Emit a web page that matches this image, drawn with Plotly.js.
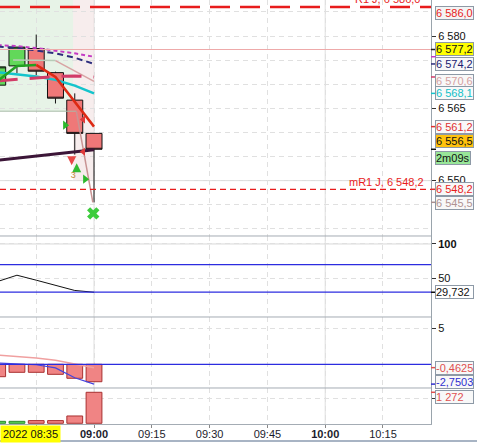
<!DOCTYPE html>
<html><head><meta charset="utf-8">
<script src="https://cdn.plot.ly/plotly-3.0.1.min.js"></script>
<style>html,body{margin:0;padding:0;background:#fff;overflow:hidden}#chart{width:477px;height:443px}</style>
</head><body><div id="chart"></div>
<script>
const FONT = '"Liberation Sans", Arial, sans-serif';
// time = minutes since midnight (08:35 .. 09:00, 5-minute candles)
const candleTimes = [515, 520, 525, 530, 535, 540];
const opens  = [6569.8, 6573.8, 6577.4, 6572.4, 6566.7, 6559.8];
const highs  = [6573.9, 6577.7, 6580.3, 6572.6, 6568.1, 6559.8];
const lows   = [6569.5, 6572.3, 6571.9, 6566.0, 6555.4, 6545.5];
const closes = [6573.6, 6577.7, 6572.7, 6567.1, 6559.8, 6556.5];

const maMagenta = [6578.1, 6577.9, 6577.5, 6577.0, 6576.4, 6575.7];
const maNavy    = [6577.8, 6577.5, 6577.0, 6576.4, 6575.5, 6574.2];
const maCyan    = [6572.5, 6572.0, 6571.6, 6570.9, 6569.7, 6568.1];
const vwapLine  = [6570.7, 6571.0, 6571.4, 6571.6, 6571.7, 6571.5];

const slowTimesFlat = [519, 525, 530];
const slowFlat      = [6575.0, 6575.0, 6574.9];
const slowTimesDown = [530, 535, 540];
const slowDown      = [6574.9, 6572.8, 6570.6];

const zigUpTimes = [515, 520, 525];
const zigUp      = [6570.7, 6573.8, 6574.0];
const zigDnTimes = [525, 530, 540];
const zigDn      = [6574.0, 6571.5, 6561.2];

const trendTimes = [515, 540];
const trendVals  = [6554.2, 6556.4];

const floorTimes = [515, 535.4];
const floorVals  = [6564.4, 6564.4];
const dropTimes  = [535.4, 539.7];
const dropVals   = [6564.4, 6545.5];

// levels
const levelR1 = 6586.0, levelMR1 = 6548.2, levelOpen = 6577.2, levelRound = 6550, levelTop = 6587.7;

// zones
const zoneX0 = [500, 534.6], zoneX1 = [534.6, 540];
const zoneY0 = [6564.4, 6550], zoneY1 = [6600, 6600];
const zoneColors = ['rgba(215,235,215,0.6)', 'rgba(240,222,222,0.55)'];

// signals
const sigGreenRightT = [532.5, 537.7], sigGreenRightP = [6561.5, 6550.3];
const sigRedLeftT = [537.2, 537.2], sigRedLeftP = [6562.7, 6556.0];
const sigRedDownT = [534.2], sigRedDownP = [6553.2];
const sigGreenUpT = [535.5], sigGreenUpP = [6553.6];
const sigCountT = [534.6], sigCountP = [6551.0], sigCountText = ['3'];
const sigCrossT = [539.8], sigCrossP = [6543.2];

// oscillator panel
const rsiVals = [45.4, 54.5, 47.3, 39.9, 32.3, 29.732];
const rsiLevels = [70, 30];
// macd panel
const macdHist = [-1.72, -1.11, -1.11, -1.39, -1.94, -2.42];
const macdLine = [1.3, 1.1, 0.87, 0.56, 0.1, -0.4625];
const macdSignal = [0.17, 0.05, -0.06, -0.5, -1.86, -2.7503];
// volume
const volumes = [80, 80, 110, 110, 300, 1272];

const xTickVals = [525, 540, 555, 570, 585, 600, 615];
const xTickText = ['', '<b>09:00</b>', '09:15', '09:30', '09:45', '<b>10:00</b>', '10:15'];
const hourLines = [540, 600];
const priceTickVals = [6550, 6565, 6580];
const rsiTickVals = [50, 100];
const macdTickVals = [5];
const volTickVals = [1000];

const last = a => a[a.length - 1];
function fmt(v, dec) {
  const neg = v < 0; const s = Math.abs(v).toFixed(dec).split('.');
  const ip = s[0].replace(/\B(?=(\d{3})+(?!\d))/g, ' ');
  return (neg ? '-' : '') + ip + (s[1] ? ',' + s[1] : '');
}

const dom = [[0.4434, 1], [0.25236, 0.4434], [0.08491, 0.25236], [0, 0.08491]];

const traces = [];
traces.push({type:'candlestick', x:candleTimes, open:opens, high:highs, low:lows, close:closes,
  xaxis:'x', yaxis:'y', whiskerwidth:0, hoverinfo:'skip',
  increasing:{line:{color:'#111', width:1}, fillcolor:'#62d85a'},
  decreasing:{line:{color:'#111', width:1}, fillcolor:'#ef7878'}});
function line(x, y, color, width, dash, yaxis) {
  traces.push({type:'scatter', mode:'lines', x, y, xaxis:'x', yaxis:yaxis||'y', hoverinfo:'skip',
    line:{color, width, dash:dash||'solid'}});
}
line(candleTimes, maCyan, '#14c4cc', 2.5);
line(slowTimesFlat, slowFlat, '#b8ccb8', 1.5);
line(slowTimesDown, slowDown, '#d8a4a4', 1.5);
line(candleTimes, vwapLine, '#d23c68', 3, '20px,12px');
line(candleTimes, maMagenta, '#c43cc4', 2, '4px,3px');
line(candleTimes, maNavy, '#2c2c7c', 2, '6px,4px');
line(floorTimes, floorVals, '#a8bca8', 1);
line(dropTimes, dropVals, '#c89494', 1.5);
line(zigUpTimes, zigUp, '#22a022', 2.5);
line(zigDnTimes, zigDn, '#dd2a14', 2.5);
line(trendTimes, trendVals, '#3c1638', 3);
function marks(x, y, symbol, color, size) {
  traces.push({type:'scatter', mode:'markers', x, y, xaxis:'x', yaxis:'y', hoverinfo:'skip',
    marker:{symbol, color, size, line:{width:0}}});
}
marks(sigGreenRightT, sigGreenRightP, 'triangle-right', '#2cb82c', 8);
marks(sigRedLeftT, sigRedLeftP, 'triangle-left', '#e03a3a', 7);
marks(sigRedDownT, sigRedDownP, 'arrow-down', '#e84848', 9);
marks(sigGreenUpT, sigGreenUpP, 'arrow-up', '#33bb33', 9);
marks(sigCrossT, sigCrossP, 'x', '#3ccc3c', 11);
traces.push({type:'scatter', mode:'text', x:sigCountT, y:sigCountP, text:sigCountText, xaxis:'x', yaxis:'y',
  hoverinfo:'skip', textfont:{family:FONT, size:9, color:'#c08838'}});

// RSI
line(candleTimes, rsiVals, '#111', 1, 'solid', 'y2');
// MACD
const upDn = closes.map((c, i) => c >= opens[i]);
traces.push({type:'bar', x:candleTimes, y:macdHist, xaxis:'x', yaxis:'y3', width:4.1, hoverinfo:'skip',
  marker:{color:'#f08484', line:{color:'#a83030', width:1}}});
line(candleTimes, macdLine, '#f0a0a0', 1.5, 'solid', 'y3');
line(candleTimes, macdSignal, '#4444e0', 1.2, 'solid', 'y3');
// Volume
traces.push({type:'bar', x:candleTimes, y:volumes, xaxis:'x', yaxis:'y4', width:4.1, hoverinfo:'skip',
  marker:{color:upDn.map(u => u ? '#5cd85c' : '#f08484'), line:{color:upDn.map(u => u ? '#2a8a2a' : '#a83030'), width:1}}});

const shapes = [];
for (let i = 0; i < zoneX0.length; i++) {
  shapes.push({type:'rect', xref:'x', yref:'y', x0:zoneX0[i], x1:zoneX1[i], y0:zoneY0[i], y1:zoneY1[i],
    fillcolor:zoneColors[i], line:{width:0}, layer:'below'});
}
hourLines.forEach(h => shapes.push({type:'line', xref:'x', yref:'paper', x0:h, x1:h, y0:0, y1:1,
  line:{color:'#dedede', width:1}, layer:'below'}));
function hl(yref, v, color, width, dash, layer) {
  shapes.push({type:'line', xref:'paper', x0:0, x1:1, yref, y0:v, y1:v, line:{color, width, dash:dash||'solid'}, layer:layer||'above'});
}
hl('y', levelRound, '#d8d8d8', 1, 'solid', 'below');
hl('y', levelOpen, '#eeaaaa', 1);
hl('y', levelR1, '#e81c1c', 2.5, '20px,10px');
hl('y', levelMR1, '#e81c1c', 1.2, '6px,4px');
hl('y2', 100, '#d8d8d8', 1, 'solid', 'below');
rsiLevels.forEach(v => hl('y2', v, '#2c2ce0', 1.2));
hl('y3', 0, '#2c2ce0', 1.2);
// panel separators
[dom[0][0], dom[1][0], dom[2][0]].forEach(v => shapes.push({type:'line', xref:'paper', yref:'paper',
  x0:0, x1:1, y0:v, y1:v, line:{color:'#a4acb4', width:1}}));
// window bottom border
shapes.push({type:'line', xref:'paper', yref:'paper', x0:0, x1:477/431, y0:-0.04, y1:-0.04, line:{color:'#a8b4c4', width:2}});

// value tags
const tagTicks = [
  ['y', levelOpen, '#222'], ['y', last(maMagenta), '#c43cc4'], ['y', last(maNavy), '#2c2c7c'],
  ['y', last(vwapLine), '#d23c68'], ['y', last(maCyan), '#14c4cc'], ['y', last(zigDn), '#e03030'],
  ['y', last(closes), '#111'], ['y', levelMR1, '#e03030'], ['y', last(lows), '#a89090'],
  ['y2', last(rsiVals), '#111'], ['y3', last(macdLine), '#e05050'], ['y3', last(macdSignal), '#3030d0'],
  ['y4', last(volumes), '#e05050']];
tagTicks.forEach(t => shapes.push({type:'line', xref:'paper', x0:1, x1:1 + 5/431, yref:t[0], y0:t[1], y1:t[1],
  line:{color:t[2], width:1.5}}));

const annotations = [];
function tag(yref, value, text, color, bg, shift, w) {
  annotations.push({xref:'paper', x:1, xanchor:'left', xshift:4, yref, y:value, yanchor:'middle', yshift:shift,
    text, showarrow:false, font:{family:FONT, size:11, color}, bgcolor:bg, bordercolor:'#8d99a6',
    borderwidth:1, borderpad:0, width:w || 37, height:12, align:'left'});
}
tag('y', levelTop, fmt(levelTop, 1), '#e81c1c', '#f4f4f4', 2);
tag('y', levelR1, fmt(levelR1, 1), '#e81c1c', '#f4f4f4', -6);
tag('y', levelOpen, fmt(levelOpen, 1), '#111', '#ffff00', 1);
tag('y', last(maNavy), fmt(last(maNavy), 1), '#202070', '#f8f8f8', 0);
tag('y', last(slowDown), fmt(last(slowDown), 1), '#d4a0a0', '#f8f8f8', 0);
tag('y', last(maCyan), fmt(last(maCyan), 1), '#10c0c8', '#f8f8f8', 0);
tag('y', last(zigDn), fmt(last(zigDn), 1), '#e03030', '#f8f8f8', 0);
tag('y', last(closes), fmt(last(closes), 1), '#111', '#ffc20e', 8);
tag('y', last(closes), '2m09s', '#111', '#98e698', -8.5, 34);
tag('y', levelMR1, fmt(levelMR1, 1), '#e81c1c', '#f8f8f8', 0);
tag('y', last(lows), fmt(last(lows), 1), '#b09292', '#f8f8f8', -1);
tag('y2', last(rsiVals), fmt(last(rsiVals), 3), '#111', '#ffffff', 0);
tag('y3', last(macdLine), fmt(last(macdLine), 4), '#e05050', '#f8f8f8', 0);
tag('y3', last(macdSignal), fmt(last(macdSignal), 4), '#3030d0', '#f8f8f8', 2.5);
tag('y4', last(volumes), fmt(last(volumes), 0), '#e05050', '#f8f8f8', -5);

annotations.push({xref:'paper', x:422/431, xanchor:'right', yref:'y', y:levelR1, yanchor:'bottom', yshift:0,
  text:'R1 J, ' + fmt(levelR1, 1), showarrow:false, font:{family:FONT, size:11, color:'#e81c1c'}});
annotations.push({xref:'paper', x:426/431, xanchor:'right', yref:'y', y:levelMR1, yanchor:'bottom', yshift:-1,
  text:'mR1 J, ' + fmt(levelMR1, 1), showarrow:false, font:{family:FONT, size:11, color:'#e81c1c'}});
annotations.push({xref:'paper', x:0, xanchor:'left', yref:'paper', y:0, yanchor:'top', yshift:-1,
  text:'2022 08:35', showarrow:false, font:{family:FONT, size:11, color:'#111'}, bgcolor:'#ffff00', borderpad:2});

function yax(d, range, tickvals, ticktext, extra) {
  return Object.assign({domain:d, range, side:'right', anchor:'x', tickmode:'array', tickvals, ticktext,
    ticks:'outside', ticklen:4, tickcolor:'#333', showline:true, linecolor:'#9aa4ac', linewidth:1,
    showgrid:true, gridcolor:'#e0e0e0', griddash:'5px,4px', zeroline:false, fixedrange:true,
    tickfont:{family:FONT, size:11, color:'#111'}}, extra || {});
}

const layout = {
  width:477, height:443, margin:{l:0, r:46, t:0, b:19, pad:0},
  paper_bgcolor:'#ffffff', plot_bgcolor:'#ffffff', showlegend:false, boxgap:0.17, boxgroupgap:0, bargap:0,
  font:{family:FONT, size:11, color:'#111'},
  xaxis:{range:[515.6, 627.46], anchor:'y4', tickmode:'array', tickvals:xTickVals, ticktext:xTickText,
    ticks:'outside', ticklen:3, tickcolor:'#888', ticklabelstandoff:-3, showline:true, linecolor:'#a4acb4', showgrid:true,
    gridcolor:'#e0e0e0', griddash:'5px,4px', zeroline:false, fixedrange:true, rangeslider:{visible:false},
    tickfont:{family:FONT, size:11, color:'#1c1c2c'}},
  yaxis:yax(dom[0], [6538.51, 6587.47], priceTickVals, priceTickVals.map(v => fmt(v, 0)),
    {showgrid:false, minor:{tickmode:'linear', tick0:6540, dtick:5, showgrid:true, gridcolor:'#e0e0e0', griddash:'5px,4px', ticks:''}}),
  yaxis2:yax(dom[1], [-6.3, 111.6], rsiTickVals, ['50', '<b>100</b>']),
  yaxis3:yax(dom[2], [-3.29, 6.57], macdTickVals, macdTickVals.map(String)),
  yaxis4:yax(dom[3], [-29, 1448], volTickVals, volTickVals.map(() => '')),
  shapes, annotations
};

Plotly.newPlot('chart', traces, layout, {staticPlot:true, displayModeBar:false});
</script></body></html>
